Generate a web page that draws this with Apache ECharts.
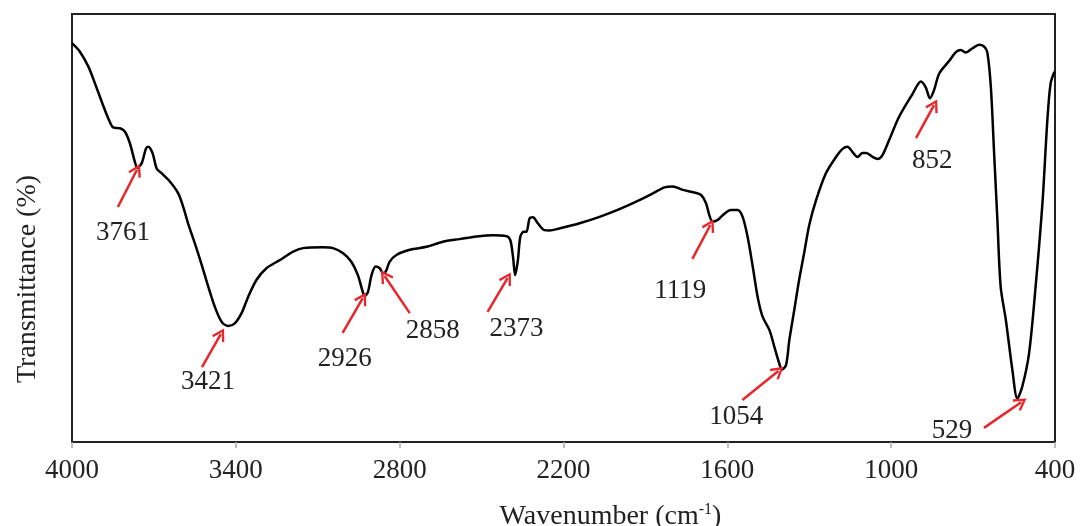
<!DOCTYPE html>
<html>
<head>
<meta charset="utf-8">
<script src="https://cdn.jsdelivr.net/npm/echarts@6/dist/echarts.min.js"></script>
<style>
  html, body { margin: 0; padding: 0; background: #fff; }
  #chart { width: 1081px; height: 526px; }
</style>
</head>
<body>
<div id="chart"></div>
<script>
// ---- data (FTIR spectrum) ----
const wavenumber = [
  4000, 3971, 3940, 3916, 3891, 3867, 3849, 3824, 3806, 3788, 3770, 3761, 3745, 3729, 3721, 3705,
  3690, 3672, 3641, 3611, 3593, 3575, 3550, 3525, 3501, 3477, 3452, 3428, 3404, 3379, 3355, 3324,
  3288, 3239, 3190, 3154, 3081, 3044, 3007, 2977, 2953, 2937, 2928, 2916, 2903, 2888, 2873, 2861,
  2851, 2837, 2812, 2763, 2702, 2642, 2581, 2519, 2459, 2410, 2395, 2385, 2377, 2367, 2358, 2346,
  2336, 2324, 2312, 2294, 2270, 2251, 2215, 2141, 2068, 1995, 1922, 1873, 1830, 1800, 1763, 1721,
  1696, 1678, 1666, 1654, 1635, 1617, 1587, 1562, 1544, 1526, 1507, 1489, 1471, 1446, 1428, 1410,
  1400, 1385, 1373, 1355, 1337, 1318, 1300, 1275, 1239, 1202, 1178, 1160, 1142, 1123, 1105, 1091,
  1068, 1050, 1033, 1007, 971, 922, 891, 873, 858, 843, 824, 788, 763, 745, 727, 702,
  678, 660, 648, 635, 623, 611, 599, 580, 556, 538, 520, 495, 471, 446, 428, 416, 402
];
const transmittance = [
  93.2, 91.2, 87.7, 83.8, 79.5, 75.6, 73.5, 73.3, 72.5, 69.8, 65.5, 64.1, 65.1, 68.6, 69.0, 67.5,
  63.9, 62.8, 60.8, 58.1, 55.0, 51.1, 46.4, 41.4, 36.3, 31.6, 28.1, 27.1, 27.7, 30.1, 33.9, 37.9,
  40.6, 42.5, 44.5, 45.3, 45.5, 45.3, 44.1, 42.1, 39.0, 35.5, 34.1, 35.1, 39.0, 41.0, 40.6, 39.4,
  39.8, 42.1, 43.7, 44.9, 45.6, 46.8, 47.4, 48.0, 48.3, 48.1, 47.2, 43.3, 39.0, 42.5, 48.0, 49.1,
  49.1, 52.3, 52.5, 51.1, 49.5, 49.4, 49.9, 51.1, 52.6, 54.4, 56.5, 58.1, 59.5, 59.7, 58.9, 58.3,
  57.7, 55.8, 53.0, 51.5, 51.9, 53.0, 54.2, 54.2, 52.6, 48.0, 41.0, 33.9, 29.3, 26.2, 22.3, 18.4,
  16.9, 18.0, 23.8, 30.8, 37.9, 44.4, 50.7, 56.5, 62.8, 66.6, 68.5, 69.0, 67.8, 66.6, 67.5, 67.5,
  66.6, 66.1, 66.9, 70.6, 76.0, 81.3, 84.2, 82.8, 80.3, 82.2, 86.1, 89.0, 91.1, 91.6, 91.0, 92.0,
  92.8, 92.4, 91.1, 83.0, 67.5, 51.9, 36.3, 28.5, 16.8, 10.2, 12.9, 20.7, 36.3, 55.8, 75.2, 83.8, 86.5
];
const xTicks = [400, 1000, 1600, 2200, 2800, 3400, 4000];

// peak annotations: label text, label anchor, arrow tail and arrow head (wavenumber, transmittance)
const peakLabels = ['3761', '3421', '2926', '2858', '2373', '1119', '1054', '852', '529'];
const labelAt = [[3813, 49.1], [3502, 14.3], [3001, 19.6], [2679, 26.2], [2372, 26.6],
                 [1772, 35.5], [1567, 6.1], [850, 65.9], [777, 2.8]];
const arrowTail = [[3832, 54.9], [3524, 17.5], [3009, 25.5], [2763, 30.1], [2478, 30.4],
                   [1728, 42.8], [1545, 9.8], [909, 71.0], [660, 3.3]];
const arrowHead = [[3762, 63.6], [3455, 25.2], [2935, 33.6], [2855, 38.8], [2405, 38.3],
                   [1662, 50.7], [1413, 16.6], [843, 78.7], [524, 9.3]];

// ---- chart ----
const FONT = '"Liberation Serif", "Times New Roman", serif';
const RED = '#e8262b';
const chart = echarts.init(document.getElementById('chart'), null, { renderer: 'canvas' });

const spectrum = wavenumber.map((w, i) => [w, transmittance[i]]);
const arrows = arrowTail.map((t, i) => [{ coord: t }, { coord: arrowHead[i] }]);
const labels = peakLabels.map((s, i) => [labelAt[i][0], labelAt[i][1], s]);

chart.setOption({
  animation: false,
  backgroundColor: '#fff',
  grid: {
    left: 72, right: 26, top: 14, bottom: 84,
    outerBoundsMode: 'none', containLabel: false,
    show: true, borderColor: '#222', borderWidth: 2, backgroundColor: 'transparent'
  },
  xAxis: {
    type: 'value', inverse: true, min: 400, max: 4000,
    name: '{t|Wavenumber (cm}{s|-1}{t|)}',
    nameLocation: 'middle', nameGap: 60,
    nameTextStyle: {
      padding: [0, 0, 0, 94],
      rich: {
        t: { fontFamily: FONT, fontSize: 28, color: '#222' },
        s: { fontFamily: FONT, fontSize: 16, color: '#222', padding: [0, 0, 14, 0] }
      }
    },
    axisLine: { show: true, lineStyle: { color: '#222', width: 2 } },
    axisTick: { show: true, customValues: xTicks, length: 6, lineStyle: { color: '#aaa', width: 1.5 } },
    axisLabel: {
      customValues: xTicks, margin: 15, fontFamily: FONT, fontSize: 27, color: '#222',
      showMinLabel: true, showMaxLabel: true,
      formatter: v => String(v)
    },
    splitLine: { show: false }
  },
  yAxis: {
    type: 'value', min: 0, max: 100,
    name: 'Transmittance (%)', nameLocation: 'middle', nameGap: 30, nameRotate: 90,
    nameTextStyle: { fontFamily: FONT, fontSize: 28, color: '#222', padding: [0, 102, 0, 0] },
    axisLine: { show: true, lineStyle: { color: '#222', width: 2 } },
    axisTick: { show: false },
    axisLabel: { show: false },
    splitLine: { show: false }
  },
  series: [
    {
      type: 'line',
      data: spectrum,
      smooth: 0.3,
      showSymbol: false,
      symbol: 'none',
      lineStyle: { color: '#000', width: 2.5 },
      markLine: {
        silent: true,
        symbol: ['none', 'path://M0,10 L6,0 L12,10 L10.3,11.2 L6,3.8 L1.7,11.2 Z'],
        symbolSize: [14, 13],
        label: { show: false },
        lineStyle: { color: RED, width: 2.5, type: 'solid' },
        data: arrows
      }
    },
    {
      type: 'scatter',
      data: labels,
      symbolSize: 0,
      silent: true,
      itemStyle: { opacity: 1, color: '#222' },
      label: {
        show: true, position: 'inside', offset: [0, 1],
        formatter: p => p.value[2],
        fontFamily: FONT, fontSize: 27, color: '#222', opacity: 1
      }
    }
  ]
});
</script>
</body>
</html>
